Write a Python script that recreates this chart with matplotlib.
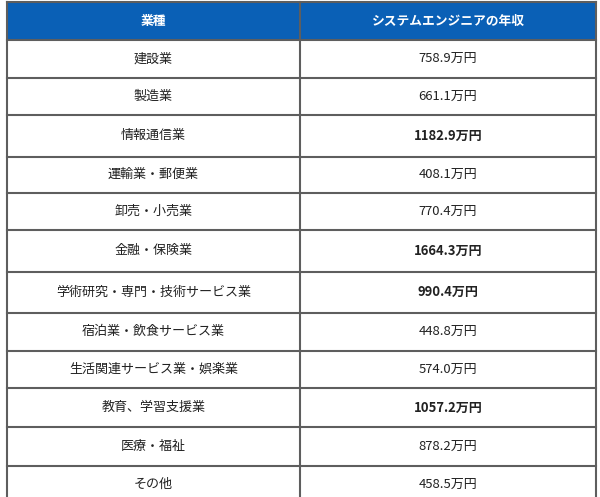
import matplotlib.pyplot as plt
from matplotlib.patches import Rectangle

plt.rcParams['font.family'] = ['Noto Sans CJK JP', 'DejaVu Sans']

headers = ['業種', 'システムエンジニアの年収']
industries = ['建設業', '製造業', '情報通信業', '運輸業・郵便業', '卸売・小売業', '金融・保険業',
              '学術研究・専門・技術サービス業', '宿泊業・飲食サービス業', '生活関連サービス業・娯楽業',
              '教育、学習支援業', '医療・福祉', 'その他']
salaries = [758.9, 661.1, 1182.9, 408.1, 770.4, 1664.3, 990.4, 448.8, 574.0, 1057.2, 878.2, 458.5]
highlight = [False, False, True, False, False, True, True, False, False, True, False, False]

# layout: row heights in pixels as measured on the original page
row_heights = [37.7, 37.3, 41.5, 36.5, 37, 41.7, 41, 38, 37.6, 39, 38.4, 38]

W, H = 600, 497
fig = plt.figure(figsize=(W / 100, H / 100), dpi=100)
ax = fig.add_axes([0, 0, 1, 1])
ax.set_xlim(0, W)
ax.set_ylim(H, 0)
ax.axis('off')

x0, xm, x1 = 7, 300, 596
top, head_h = 2, 38
border = '#5e5e5e'

# header
ax.add_patch(Rectangle((x0, top), x1 - x0, head_h, facecolor='#0a60b6', edgecolor='none'))
ax.text((x0 + xm) / 2, top + head_h / 2, headers[0], color='white', fontsize=9.2,
        fontweight='bold', ha='center', va='center')
ax.text((xm + x1) / 2, top + head_h / 2, headers[1], color='white', fontsize=9.2,
        fontweight='bold', ha='center', va='center')

# rows
y = top + head_h
for name, val, hl, row_h in zip(industries, salaries, highlight, row_heights):
    ax.text((x0 + xm) / 2, y + row_h / 2, name, fontsize=9.4, color='#222222',
            ha='center', va='center')
    ax.text((xm + x1) / 2, y + row_h / 2, f'{val:.1f}万円', fontsize=9.4, color='#222222',
            fontweight='bold' if hl else 'normal', ha='center', va='center')
    ax.plot([x0, x1], [y, y], color=border, lw=1.5)
    y += row_h

# outer and column lines
ax.plot([x0, x1], [top, top], color=border, lw=1.5)
ax.plot([x0, x0], [top, H + 10], color=border, lw=1.5)
ax.plot([x1, x1], [top, H + 10], color=border, lw=1.5)
ax.plot([xm, xm], [top, H + 10], color=border, lw=1.5)

fig.savefig('out.png', dpi=100)
